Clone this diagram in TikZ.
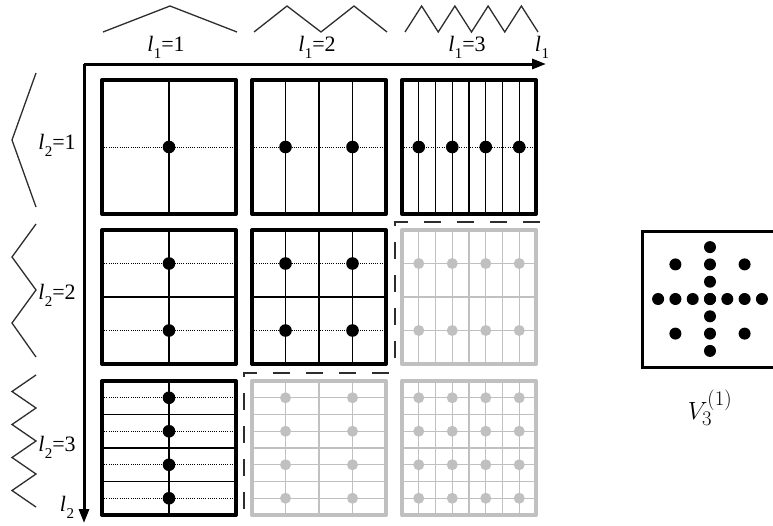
\documentclass[tikz,border=0pt]{standalone}
\usepackage{fontspec}
\setmainfont{Liberation Serif}
\usetikzlibrary{arrows.meta}
\definecolor{lg}{RGB}{192,192,192}
\definecolor{zz}{RGB}{45,45,45}
\newcommand\lsub[1]{\textit{l}\kern0.02em\raisebox{-0.32em}{\fontsize{15}{15}\selectfont #1}}
\newcommand\drawcell[7]{%
  \pgfmathtruncatemacro\nA{2^#3}%
  \pgfmathtruncatemacro\nB{2^#4}%
  \pgfmathtruncatemacro\mA{\nA-1}%
  \pgfmathtruncatemacro\mB{\nB-1}%
  \pgfmathtruncatemacro\hA{\nA/2}%
  \pgfmathtruncatemacro\hB{\nB/2}%
  \foreach \k in {1,...,\mA} \draw[gridl,#5] ({#1+2+\k*134/\nA},#2+2) -- ++(0,134);
  \foreach \k in {1,...,\mB} {%
    \pgfmathtruncatemacro\odd{mod(\k,2)}%
    \ifnum\odd=1 \draw[#6,#5] (#1+2,{#2+2+\k*134/\nB}) -- ++(134,0);
    \else \draw[gridl,#5] (#1+2,{#2+2+\k*134/\nB}) -- ++(134,0); \fi}
  \draw[frame,#5] (#1+2,#2+2) rectangle ++(134,134);
  \foreach \i in {1,...,\hA}\foreach \j in {1,...,\hB}
    \fill[#5] ({#1+2+(2*\i-1)*134/\nA},{#2+2+(2*\j-1)*134/\nB}) circle[radius=#7];
}
\begin{document}
\begin{tikzpicture}[x=1pt,y=-1pt,
  gridl/.style={line width=1.2pt},
  dotl/.style={line width=1pt,dash pattern=on 1pt off 1.2pt},
  frame/.style={line width=4pt,line join=round},
  zig/.style={zz,line width=1.3pt,line join=miter},
  axis/.style={line width=3pt,-{Triangle[length=14pt,width=10pt]}},
  dashb/.style={zz,line width=1.6pt,dash pattern=on 17pt off 16pt},
  lab/.style={inner sep=0pt,font=\fontsize{22}{24}\selectfont}]
\useasboundingbox (0,0) rectangle (773,525);
\fill[white] (0,0) rectangle (773,525);
% axes
\coordinate (O) at (84,64);
\coordinate (X) at (546,64);
\coordinate (Y) at (84,523);
\draw[axis] (O) -- (X);
\draw[axis] (O) -- (Y);
% cells
\drawcell{100}{78}{1}{1}{black}{dotl}{6.3}
\drawcell{250}{78}{2}{1}{black}{dotl}{6.3}
\drawcell{400}{78}{3}{1}{black}{dotl}{6.3}
\drawcell{100}{228}{1}{2}{black}{dotl}{6.3}
\drawcell{250}{228}{2}{2}{black}{dotl}{6.3}
\drawcell{400}{228}{3}{2}{lg}{gridl}{5.5}
\drawcell{100}{379}{1}{3}{black}{dotl}{6.3}
\drawcell{250}{379}{2}{3}{lg}{gridl}{5.5}
\drawcell{400}{379}{3}{3}{lg}{gridl}{5.5}
% dashed boundary
\draw[dashb] (540,222) -- (395,222) -- (395,366);
\draw[dashb] (389,373) -- (244,373) -- (244,517);
% top zigzags
\draw[zig] (103,32) -- (170,6) -- (237,32);
\draw[zig] (254,32) -- (287,6) -- (321,32) -- (354,6) -- (387,32);
\draw[zig] (405,32) \foreach \k in {1,...,8} { -- ({405+\k*16.625},{\k/2==int(\k/2) ? 32 : 6}) };
% left zigzags
\draw[zig] (36,73) -- (12,140) -- (36,207);
\draw[zig] (36,224) -- (12,257) -- (36,290) -- (12,323) -- (36,357);
\draw[zig] (36,375) \foreach \k in {1,...,8} { -- ({\k/2==int(\k/2) ? 36 : 12},{375+\k*16.5}) };
% labels
\node[lab] (a1) at (166,47) {\lsub{1}=1};
\node[lab] (a2) at (317,47) {\lsub{1}=2};
\node[lab] (a3) at (467,47) {\lsub{1}=3};
\node[lab] (ax) at (542,47) {\lsub{1}};
\node[lab] (b1) at (57,145) {\lsub{2}=1};
\node[lab] (b2) at (57,295) {\lsub{2}=2};
\node[lab] (b3) at (57,447) {\lsub{2}=3};
\node[lab] (by) at (67,507) {\lsub{2}};
% V box
\draw[line width=3pt] (773,231.5) -- (642.5,231.5) -- (642.5,367.5) -- (773,367.5);
\foreach \k in {-3,...,3} {
  \fill (710,{299+\k*17.3}) circle[radius=6];
  \fill ({710+\k*17.3},299) circle[radius=6];
}
\foreach \sx in {-2,2} \foreach \sy in {-2,2}
  \fill ({710+\sx*17.3},{299+\sy*17.3}) circle[radius=6];
\node[inner sep=0pt] (v) at (710,408) {\fontsize{29}{33}\selectfont $V_3^{(1)}$};
\end{tikzpicture}
\end{document}
